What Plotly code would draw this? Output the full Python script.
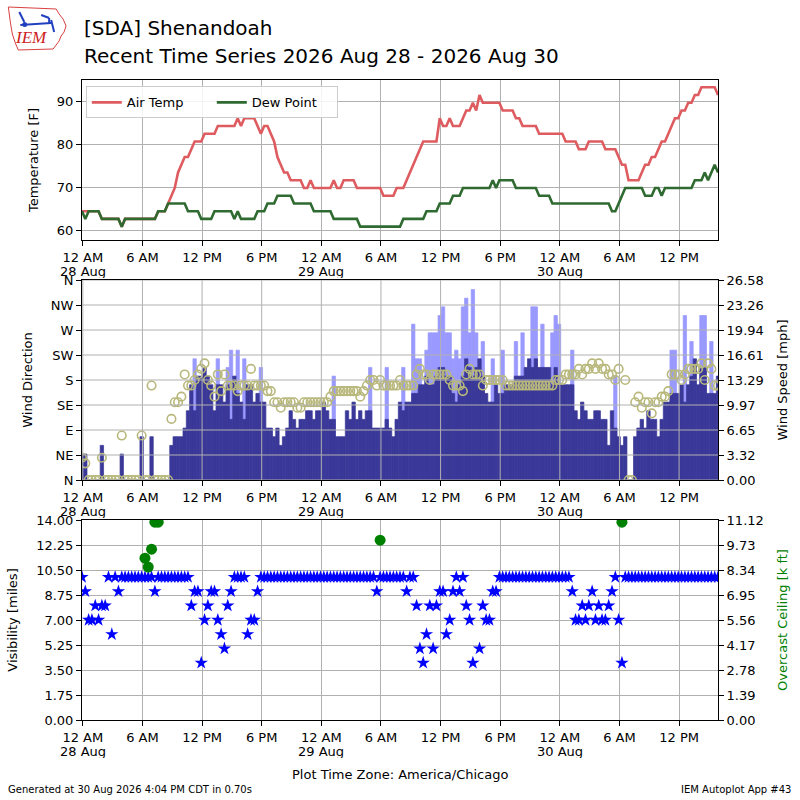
import numpy as np
import pandas as pd
import plotly.graph_objects as go

# ---------------- data (20-minute AWOS observations) ----------------
first_obs = "2026-08-27 23:55"
n_obs = 193
obs_times = pd.date_range(first_obs, periods=n_obs, freq="20min")

temp_f = [
    64.4, 64.4, 64.4, 64.4, 64.4, 64.4, 62.6, 62.6, 62.6, 62.6,
    62.6, 62.6, 60.8, 62.6, 62.6, 62.6, 62.6, 62.6, 62.6, 62.6,
    62.6, 62.6, 62.6, 64.4, 64.4, 64.4, 66.2, 68.0, 69.8, 73.4,
    75.2, 77.0, 77.0, 78.8, 80.6, 80.6, 80.6, 82.4, 82.4, 82.4,
    82.4, 84.2, 84.2, 84.2, 84.2, 84.2, 84.2, 86.0, 84.2, 86.0,
    86.0, 86.0, 86.0, 84.2, 82.4, 84.2, 84.2, 82.4, 80.6, 77.0,
    75.2, 73.4, 73.4, 71.6, 71.6, 71.6, 71.6, 69.8, 69.8, 71.6,
    69.8, 69.8, 69.8, 69.8, 69.8, 69.8, 71.6, 69.8, 69.8, 71.6,
    71.6, 71.6, 71.6, 69.8, 69.8, 69.8, 69.8, 69.8, 69.8, 69.8,
    69.8, 68.0, 68.0, 68.0, 68.0, 69.8, 69.8, 69.8, 71.6, 73.4,
    75.2, 77.0, 78.8, 80.6, 80.6, 80.6, 80.6, 80.6, 86.0, 84.2,
    84.2, 86.0, 84.2, 84.2, 84.2, 86.0, 87.8, 87.8, 89.6, 87.8,
    91.4, 89.6, 89.6, 89.6, 89.6, 89.6, 89.6, 87.8, 87.8, 87.8,
    87.8, 86.0, 86.0, 84.2, 84.2, 84.2, 84.2, 84.2, 82.4, 82.4,
    82.4, 82.4, 82.4, 82.4, 82.4, 82.4, 80.6, 80.6, 80.6, 80.6,
    78.8, 78.8, 78.8, 80.6, 80.6, 80.6, 80.6, 80.6, 78.8, 78.8,
    78.8, 78.8, 77.0, 75.2, 75.2, 71.6, 71.6, 71.6, 71.6, 73.4,
    75.2, 75.2, 77.0, 77.0, 78.8, 80.6, 80.6, 82.4, 84.2, 86.0,
    86.0, 87.8, 87.8, 89.6, 89.6, 91.4, 91.4, 93.2, 93.2, 93.2,
    93.2, 93.2, 91.4,
]

dewp_f = [
    64.4, 62.6, 64.4, 64.4, 64.4, 64.4, 62.6, 62.6, 62.6, 62.6,
    62.6, 62.6, 60.8, 62.6, 62.6, 62.6, 62.6, 62.6, 62.6, 62.6,
    62.6, 62.6, 62.6, 64.4, 64.4, 64.4, 66.2, 66.2, 66.2, 66.2,
    66.2, 66.2, 64.4, 64.4, 64.4, 64.4, 62.6, 62.6, 62.6, 62.6,
    64.4, 64.4, 64.4, 64.4, 64.4, 64.4, 62.6, 64.4, 62.6, 62.6,
    62.6, 62.6, 62.6, 64.4, 64.4, 64.4, 66.2, 66.2, 66.2, 68.0,
    68.0, 68.0, 68.0, 68.0, 66.2, 66.2, 66.2, 66.2, 66.2, 66.2,
    64.4, 64.4, 64.4, 64.4, 64.4, 64.4, 62.6, 62.6, 62.6, 62.6,
    62.6, 62.6, 62.6, 62.6, 60.8, 60.8, 60.8, 60.8, 60.8, 60.8,
    60.8, 60.8, 60.8, 60.8, 60.8, 60.8, 60.8, 62.6, 62.6, 62.6,
    62.6, 62.6, 62.6, 62.6, 64.4, 64.4, 64.4, 64.4, 66.2, 66.2,
    66.2, 66.2, 68.0, 68.0, 68.0, 69.8, 69.8, 69.8, 69.8, 69.8,
    69.8, 69.8, 69.8, 69.8, 71.6, 69.8, 71.6, 71.6, 71.6, 71.6,
    71.6, 69.8, 69.8, 69.8, 69.8, 69.8, 69.8, 69.8, 68.0, 68.0,
    68.0, 68.0, 66.2, 66.2, 66.2, 66.2, 66.2, 66.2, 66.2, 66.2,
    66.2, 66.2, 66.2, 66.2, 66.2, 66.2, 66.2, 66.2, 66.2, 66.2,
    64.4, 64.4, 66.2, 68.0, 69.8, 69.8, 69.8, 69.8, 69.8, 69.8,
    68.0, 68.0, 68.0, 69.8, 69.8, 68.0, 69.8, 69.8, 69.8, 69.8,
    69.8, 69.8, 69.8, 69.8, 69.8, 71.6, 71.6, 71.6, 73.4, 71.6,
    73.4, 75.2, 73.4,
]

wind_kt = [
    3, 3, 0, 0, 0, 0, 4, 0, 0, 0,
    0, 0, 3, 0, 0, 0, 0, 0, 5, 0,
    0, 5, 0, 0, 0, 0, 0, 4, 5, 5,
    5, 6, 8, 11, 8, 12, 12, 13, 12, 11,
    8, 11, 11, 9, 11, 7, 12, 10, 9, 7,
    11, 11, 9, 10, 9, 9, 6, 6, 5, 6,
    4, 5, 6, 8, 7, 6, 7, 7, 8, 8,
    7, 8, 8, 9, 8, 7, 7, 5, 5, 5,
    8, 7, 9, 7, 8, 7, 8, 8, 6, 6,
    6, 6, 7, 6, 5, 7, 9, 8, 9, 9,
    10, 10, 11, 11, 12, 11, 11, 12, 13, 13,
    12, 12, 10, 9, 11, 12, 14, 13, 12, 13,
    14, 12, 10, 9, 9, 11, 10, 10, 11, 11,
    11, 12, 12, 12, 13, 14, 13, 14, 13, 13,
    13, 13, 11, 13, 11, 11, 11, 11, 11, 8,
    7, 9, 8, 7, 7, 8, 8, 7, 7, 4,
    8, 6, 5, 4, 5, 0, 0, 5, 6, 7,
    6, 8, 7, 7, 5, 7, 9, 9, 10, 10,
    10, 11, 9, 11, 12, 14, 11, 13, 13, 10,
    10, 10, 12,
]

_ = None
gust_kt = [
    _, _, _, _, _, _, _, _, _, _,
    _, _, _, _, _, _, _, _, _, _,
    _, _, _, _, _, _, _, _, _, _,
    _, _, _, _, 14, _, _, _, _, _,
    _, 14, _, _, 13, 15, _, 15, _, 14,
    _, _, _, _, 13, _, _, _, _, _,
    _, _, _, _, _, _, _, _, _, _,
    _, _, _, _, _, _, 12, _, _, _,
    _, _, _, _, _, _, _, 13, _, _,
    _, _, 13, _, _, _, _, 13, _, _,
    18, 14, 14, _, 15, 17, 17, 17, 19, 20,
    17, 17, 14, 15, 14, 20, 21, 17, 22, 17,
    _, 16, _, _, 14, _, _, 15, _, _,
    _, 16, _, 17, _, _, 20, 20, _, 18,
    _, _, 17, 19, 18, _, _, _, 15, _,
    _, _, _, _, _, _, _, _, _, _,
    _, 12, _, _, _, _, _, _, _, _,
    _, _, _, _, _, _, _, _, 15, 15,
    _, _, 19, _, 16, _, _, 19, 19, _,
    16, _, _,
]

wind_dir = [
    40, 30, 0, 0, 0, 0, 40, 0, 0, 0,
    0, 0, 80, 0, 0, 0, 0, 0, 80, 0,
    0, 170, 0, 0, 0, 0, 0, 110, 140, 140,
    150, 190, 170, 170, 180, 190, 200, 210, 180, 170,
    150, 190, 160, 190, 170, 170, 170, 160, 170, 170,
    170, 200, 170, 170, 170, 170, 160, 160, 140, 140,
    130, 140, 140, 140, 140, 130, 130, 140, 140, 140,
    140, 140, 140, 140, 140, 150, 160, 160, 160, 160,
    160, 160, 160, 160, 150, 160, 170, 180, 180, 170,
    180, 170, 170, 170, 170, 170, 180, 170, 170, 170,
    170, 190, 200, 190, 190, 180, 190, 190, 190, 190,
    190, 180, 170, 170, 170, 160, 190, 200, 190, 190,
    190, 170, 180, 180, 180, 180, 180, 180, 170, 170,
    170, 170, 170, 170, 170, 170, 170, 170, 170, 170,
    170, 170, 170, 180, 180, 180, 190, 190, 190, 190,
    200, 190, 200, 200, 210, 200, 210, 200, 200, 190,
    190, 180, 200, None, 180, 0, 0, 140, 150, 130,
    140, 140, 120, 140, 140, 150, 150, 160, 190, 190,
    190, 180, 190, 200, 200, 200, 200, 210, 180, 210,
    200, 170, 170,
]

vis_mi = [
    10, 9, 7, 7, 8, 7, 8, 8, 10, 6,
    10, 9, 10, 10, 10, 10, 10, 10, 10, 10,
    10, 10, 9, 10, 10, 10, 10, 10, 10, 10,
    10, 10, 10, 8, 9, 9, 4, 7, 8, 9,
    9, 7, 6, 5, 8, 9, 10, 10, 10, 10,
    6, 7, 7, 9, 10, 10, 10, 10, 10, 10,
    10, 10, 10, 10, 10, 10, 10, 10, 10, 10,
    10, 10, 10, 10, 10, 10, 10, 10, 10, 10,
    10, 10, 10, 10, 10, 10, 10, 10, 10, 9,
    10, 10, 10, 10, 10, 10, 10, 10, 9, 10,
    10, 8, 5, 4, 6, 8, 5, 8, 9, 9,
    6, 7, 9, 10, 9, 10, 8, 7, 4, None,
    5, 8, 7, 7, 9, 9, 10, 10, 10, 10,
    10, 10, 10, 10, 10, 10, 10, 10, 10, 10,
    10, 10, 10, 10, 10, 10, 10, 10, 9, 7,
    7, 8, 7, 8, 9, 7, 8, 7, 7, 8,
    9, 10, 7, 4, 10, 10, 10, 10, 10, 10,
    10, 10, 10, 10, 10, 10, 10, 10, 10, 10,
    10, 10, 10, 10, 10, 10, 10, 10, 10, 10,
    10, 10, 10,
]

ceil_times = ["2026-08-28 06:15", "2026-08-28 06:35", "2026-08-28 06:55",
              "2026-08-28 07:15", "2026-08-28 07:35", "2026-08-29 05:55",
              "2026-08-30 06:15"]
ceil_kft = [9.0, 8.5, 9.5, 11.0, 11.0, 10.0, 11.0]

for arr in (temp_f, dewp_f, wind_kt, gust_kt, wind_dir, vis_mi):
    assert len(arr) == n_obs, len(arr)

tick_times = ["2026-08-28 00:00", "2026-08-28 06:00", "2026-08-28 12:00",
              "2026-08-28 18:00", "2026-08-29 00:00", "2026-08-29 06:00",
              "2026-08-29 12:00", "2026-08-29 18:00", "2026-08-30 00:00",
              "2026-08-30 06:00", "2026-08-30 12:00"]
tick_text = ["12 AM", "6 AM", "12 PM", "6 PM", "12 AM",
             "6 AM", "12 PM", "6 PM", "12 AM", "6 AM", "12 PM"]
date_ticks = ["2026-08-28 00:00", "2026-08-29 00:00", "2026-08-30 00:00"]
date_text = ["28 Aug", "29 Aug", "30 Aug"]

temp_ticks = [60, 70, 80, 90]
temp_range = [57.7, 94.9]
dir_ticks = [0, 45, 90, 135, 180, 225, 270, 315, 360]
dir_labels = ["N", "NE", "E", "SE", "S", "SW", "W", "NW", "N"]
vis_ticks = [0, 1.75, 3.5, 5.25, 7.0, 8.75, 10.5, 12.25, 14.0]
ceil_max = 11.12

# ---------------- derived ----------------
KT2MPH = 1.15078
wind_mph = [None if v is None else v * KT2MPH for v in wind_kt]
gust_mph = [None if v is None else v * KT2MPH for v in gust_kt]
speed_max = max(v for v in gust_mph if v is not None) * 1.05
speed_ticks = np.linspace(0, speed_max, 9)
ceil_ticks = np.linspace(0, ceil_max, 9)
xr = [obs_times[0], obs_times[-1]]
BAR_W = 20.5 * 60 * 1000  # ms

FONT = "DejaVu Sans"
RED = "#de5c60"
GREEN = "#2f6a31"
DARK = "#3a3898"
LIGHT = "#9999ff"

fig = go.Figure()

# top panel
fig.add_trace(go.Scatter(x=obs_times, y=temp_f, mode="lines", name="Air Temp",
                         line=dict(color=RED, width=2.6), xaxis="x", yaxis="y"))
fig.add_trace(go.Scatter(x=obs_times, y=dewp_f, mode="lines", name="Dew Point",
                         line=dict(color=GREEN, width=2.6), xaxis="x", yaxis="y"))

# middle panel
fig.add_trace(go.Bar(x=obs_times, y=gust_mph, width=BAR_W,
                     marker=dict(color=LIGHT, line=dict(width=0.7, color=LIGHT)),
                     showlegend=False, xaxis="x2", yaxis="y2"))
fig.add_trace(go.Bar(x=obs_times, y=wind_mph, width=BAR_W,
                     marker=dict(color=DARK, line=dict(width=0.7, color=DARK)),
                     showlegend=False, xaxis="x2", yaxis="y2"))
fig.add_trace(go.Scatter(x=obs_times, y=wind_dir, mode="markers",
                         marker=dict(symbol="circle-open", size=8.5, color="#b8b87c",
                                     line=dict(width=1.6, color="#b8b87c")),
                         showlegend=False, xaxis="x2", yaxis="y3"))

# bottom panel
fig.add_trace(go.Scatter(x=obs_times, y=vis_mi, mode="markers",
                         marker=dict(symbol="star", size=10, color="#0000ff",
                                     line=dict(width=0)),
                         showlegend=False, xaxis="x3", yaxis="y4"))
fig.add_trace(go.Scatter(x=ceil_times, y=ceil_kft, mode="markers",
                         marker=dict(symbol="circle", size=11, color="#008000",
                                     line=dict(width=0)),
                         showlegend=False, xaxis="x3", yaxis="y5"))

tickfont = dict(family=FONT, size=13, color="black")
base_axis = dict(showline=True, linecolor="black", linewidth=1, mirror=True,
                 ticks="outside", ticklen=5, tickcolor="black", tickfont=tickfont,
                 gridcolor="#b0b0b0", gridwidth=1, zeroline=False)


def xax(anchor, grid=True):
    d = dict(base_axis)
    d.update(anchor=anchor, type="date", range=xr, tickmode="array",
             tickvals=tick_times, ticktext=tick_text, showgrid=grid)
    return d


layout = dict(
    width=800, height=800,
    margin=dict(l=81, r=80, t=80, b=80),
    paper_bgcolor="white", plot_bgcolor="white",
    font=dict(family=FONT, size=13, color="black"),
    barmode="overlay",
    xaxis=xax("y"),
    xaxis2=xax("y2", grid=False),
    xaxis3=xax("y4"),
)
yax1 = dict(base_axis)
yax1.update(domain=[0.75, 1.0], anchor="x", range=temp_range, tickmode="array",
            tickvals=temp_ticks, title=dict(text="Temperature [F]", font=dict(size=13)))
layout["yaxis"] = yax1

yax2 = dict(base_axis)
yax2.update(domain=[0.375, 0.6875], anchor="x2", side="right", range=[0, speed_max],
            tickmode="array", tickvals=list(speed_ticks),
            ticktext=["%.2f" % v for v in speed_ticks], showgrid=False,
            title=dict(text="Wind Speed [mph]", font=dict(size=13)))
layout["yaxis2"] = yax2

yax3 = dict(base_axis)
yax3.update(anchor="x2", overlaying="y2", side="left", range=[0, 360],
            tickmode="array", tickvals=dir_ticks, ticktext=dir_labels, showgrid=False,
            mirror=False, title=dict(text="Wind Direction", font=dict(size=13)))
layout["yaxis3"] = yax3

yax4 = dict(base_axis)
yax4.update(domain=[0.0, 0.3125], anchor="x3", range=[0, 14], tickmode="array",
            tickvals=vis_ticks, ticktext=["%.2f" % v for v in vis_ticks],
            title=dict(text="Visibility [miles]", font=dict(size=13)))
layout["yaxis4"] = yax4

yax5 = dict(base_axis)
yax5.update(anchor="x3", overlaying="y4", side="right", range=[0, ceil_max],
            tickmode="array", tickvals=list(ceil_ticks),
            ticktext=["%.2f" % v for v in ceil_ticks], showgrid=False, mirror=False,
            title=dict(text="Overcast Ceiling [k ft]", font=dict(size=13, color="#008000")))
layout["yaxis5"] = yax5

layout["legend"] = dict(x=0.006, y=0.99, xanchor="left", yanchor="top",
                        orientation="h", bgcolor="rgba(255,255,255,0.85)",
                        bordercolor="#cccccc", borderwidth=1,
                        font=dict(family=FONT, size=13), entrywidth=80,
                        itemwidth=30)
fig.update_layout(**layout)

# grid lines drawn above bars in middle panel
shapes = []
for d in dir_ticks:
    shapes.append(dict(type="line", xref="x2 domain", yref="y3", x0=0, x1=1, y0=d, y1=d,
                       line=dict(color="#b0b0b0", width=1), layer="above"))
for t in tick_times:
    shapes.append(dict(type="line", xref="x2", yref="y2 domain", x0=t, x1=t, y0=0, y1=1,
                       line=dict(color="#b0b0b0", width=1), layer="above"))


# pixel -> paper helper for decorations
def P(px, py):
    return (px - 81) / 639.0, (720 - py) / 640.0


outline = [(7, 7), (55, 9), (58, 14), (62, 19), (65, 26), (63, 32), (60, 36),
           (58, 41), (55, 45), (52, 49), (17, 50), (14, 43), (11, 34), (9, 22)]
path = "M " + " L ".join("%.5f,%.5f" % P(a, b) for a, b in outline) + " Z"
shapes.append(dict(type="path", xref="paper", yref="paper", path=path,
                   line=dict(color="#d94040", width=1), fillcolor="white", layer="above"))
for (a, b, c, e) in [(19, 25, 50, 23), (18, 12, 23, 22), (40, 15, 48, 18),
                     (48, 18, 48, 23), (50, 20, 53, 32)]:
    x0, y0 = P(a, b)
    x1, y1 = P(c, e)
    shapes.append(dict(type="line", xref="paper", yref="paper", x0=x0, y0=y0, x1=x1, y1=y1,
                       line=dict(color="#2040c0", width=2), layer="above"))
cx0, cy0 = P(21, 22)
cx1, cy1 = P(26, 27)
shapes.append(dict(type="circle", xref="paper", yref="paper", x0=cx0, y0=cy0, x1=cx1, y1=cy1,
                   fillcolor="#2040c0", line=dict(width=0), layer="above"))
fig.update_layout(shapes=shapes)

ann = []
# date line under the midnight ticks of each panel
for xref, py in (("x", 271), ("x2", 511), ("x3", 751)):
    _, yy = P(0, py)
    for t, s in zip(date_ticks, date_text):
        ann.append(dict(text=s, x=t, y=yy, xref=xref, yref="paper", showarrow=False,
                        xanchor="center", yanchor="middle", borderpad=0, height=14,
                        font=dict(family=FONT, size=13, color="black")))

lx, ly = P(30, 38)
ann.append(dict(text="<i>IEM</i>", x=lx, y=ly, xref="paper", yref="paper",
                showarrow=False, xanchor="center", yanchor="middle",
                font=dict(family="Liberation Serif", size=17, color="#cc2020")))
tx, ty1 = P(81, 28)
_, ty2 = P(81, 56)
ann.append(dict(text="[SDA] Shenandoah", x=tx, y=ty1, xref="paper", yref="paper",
                showarrow=False, xanchor="left", yanchor="middle",
                font=dict(family=FONT, size=20, color="black")))
ann.append(dict(text="Recent Time Series 2026 Aug 28 - 2026 Aug 30", x=tx, y=ty2,
                xref="paper", yref="paper", showarrow=False, xanchor="left",
                yanchor="middle", font=dict(family=FONT, size=20, color="black")))
_, zy = P(400, 774)
ann.append(dict(text="Plot Time Zone: America/Chicago", x=0.5, y=zy, xref="paper",
                yref="paper", showarrow=False, xanchor="center", yanchor="middle",
                font=dict(family=FONT, size=13, color="black")))
gx, gy = P(5, 789)
ann.append(dict(text="Generated at 30 Aug 2026 4:04 PM CDT in 0.70s", x=gx, y=gy,
                xref="paper", yref="paper", showarrow=False, xanchor="left",
                yanchor="middle", font=dict(family=FONT, size=10, color="black")))
rx, _ = P(795, 789)
ann.append(dict(text="IEM Autoplot App #43", x=rx, y=gy, xref="paper", yref="paper",
                showarrow=False, xanchor="right", yanchor="middle",
                font=dict(family=FONT, size=10, color="black")))
fig.update_layout(annotations=ann)

fig.write_html("out.html", config={"displayModeBar": False},
               post_script="document.body.style.margin='0';document.body.style.padding='0';")
